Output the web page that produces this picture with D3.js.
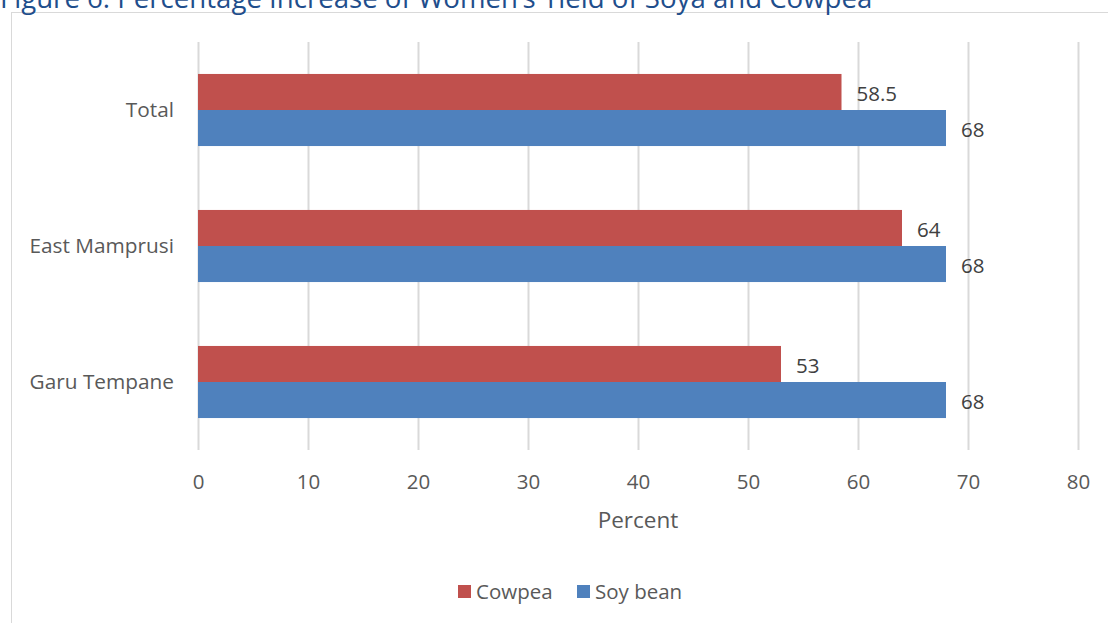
<!DOCTYPE html>
<html>
<head>
<meta charset="utf-8">
<script src="https://cdn.jsdelivr.net/npm/d3@7"></script>
<style>
  html, body { margin: 0; padding: 0; background: #fff; overflow: hidden; }
  svg { display: block; font-family: "Open Sans", sans-serif; }
</style>
</head>
<body>
<svg id="chart" width="1108" height="623"></svg>
<script>
// Chart data
const categories = ["Total", "East Mamprusi", "Garu Tempane"];
const seriesNames = ["Cowpea", "Soy bean"];
const cowpea = [58.5, 64, 53];
const soyBean = [68, 68, 68];
const xTicks = [0, 10, 20, 30, 40, 50, 60, 70, 80];
const titleText = "Figure 6: Percentage Increase of Women\u2019s Yield of Soya and Cowpea";
const axisTitle = "Percent";

const colors = { "Cowpea": "#C0504D", "Soy bean": "#4F81BD" };
const seriesValues = { "Cowpea": cowpea, "Soy bean": soyBean };
const FONT = "'Open Sans', sans-serif";

const svg = d3.select("#chart");

// Outer frame of the chart area
svg.append("rect")
  .attr("x", 11.5).attr("y", 12.5)
  .attr("width", 1120).attr("height", 640)
  .attr("fill", "#fff").attr("stroke", "#D9D9D9").attr("stroke-width", 1);

// Title (sits above the frame)
svg.append("text")
  .attr("x", 0).attr("y", 7.5)
  .attr("fill", "#1F4E8C")
  .attr("font-size", 27.6)
  .text(titleText);

const plot = { left: 198, right: 1078, top: 42, bottom: 450 };

const x = d3.scaleLinear().domain([0, 80]).range([plot.left, plot.right]);
const y = d3.scaleBand().domain(categories)
  .range([plot.top, plot.bottom])
  .paddingInner(0.47).paddingOuter(0.235);
const ySub = d3.scaleBand().domain(seriesNames).range([0, y.bandwidth()]);

// Vertical gridlines
svg.append("g")
  .selectAll("line")
  .data(xTicks)
  .join("line")
  .attr("x1", d => x(d) + 0.5).attr("x2", d => x(d) + 0.5)
  .attr("y1", plot.top).attr("y2", plot.bottom)
  .attr("stroke", "#D9D9D9").attr("stroke-width", 2);

// X axis tick labels
const xAxis = d3.axisBottom(x).tickValues(xTicks).tickSize(0).tickPadding(0).tickFormat(d3.format("d"));
const gx = svg.append("g")
  .attr("transform", `translate(0, ${plot.bottom})`)
  .call(xAxis);
gx.select(".domain").remove();
gx.selectAll("text")
  .attr("y", 32).attr("dy", "0.35em")
  .attr("font-size", 20.5)
  .attr("font-family", FONT)
  .attr("fill", "#595959");

// Category labels
const yAxis = d3.axisLeft(y).tickSize(0).tickPadding(0);
const gy = svg.append("g")
  .attr("transform", `translate(${plot.left - 24}, 0)`)
  .call(yAxis);
gy.select(".domain").remove();
gy.selectAll("text")
  .attr("dy", "0.35em")
  .attr("font-size", 20.8)
  .attr("font-family", FONT)
  .attr("fill", "#595959");

// Bars and value labels
const groups = svg.append("g")
  .selectAll("g")
  .data(categories)
  .join("g")
  .attr("transform", d => `translate(0, ${y(d)})`);

groups.selectAll("rect")
  .data((c, i) => seriesNames.map(s => ({ s, v: seriesValues[s][i] })))
  .join("rect")
  .attr("x", x(0))
  .attr("y", d => ySub(d.s))
  .attr("width", d => x(d.v) - x(0))
  .attr("height", ySub.bandwidth())
  .attr("fill", d => colors[d.s]);

groups.selectAll("text.val")
  .data((c, i) => seriesNames.map(s => ({ s, v: seriesValues[s][i] })))
  .join("text")
  .attr("class", "val")
  .attr("x", d => x(d.v) + 15)
  .attr("y", d => ySub(d.s) + ySub.bandwidth() / 2 + 2)
  .attr("dy", "0.35em")
  .attr("font-size", 20.5)
  .attr("fill", "#404040")
  .text(d => d3.format("")(d.v));

// Axis title
svg.append("text")
  .attr("x", (plot.left + plot.right) / 2).attr("y", 520)
  .attr("dy", "0.35em")
  .attr("text-anchor", "middle")
  .attr("font-size", 22.5)
  .attr("fill", "#595959")
  .text(axisTitle);

// Legend
const legendItems = [{ s: "Cowpea", x: 458 }, { s: "Soy bean", x: 577 }];
const legend = svg.append("g");
legend.selectAll("rect")
  .data(legendItems)
  .join("rect")
  .attr("x", d => d.x).attr("y", 585)
  .attr("width", 13).attr("height", 13)
  .attr("fill", d => colors[d.s]);
legend.selectAll("text")
  .data(legendItems)
  .join("text")
  .attr("x", d => d.x + 18).attr("y", 592)
  .attr("dy", "0.35em")
  .attr("font-size", 20.5)
  .attr("fill", "#595959")
  .text(d => d.s);
</script>
</body>
</html>
